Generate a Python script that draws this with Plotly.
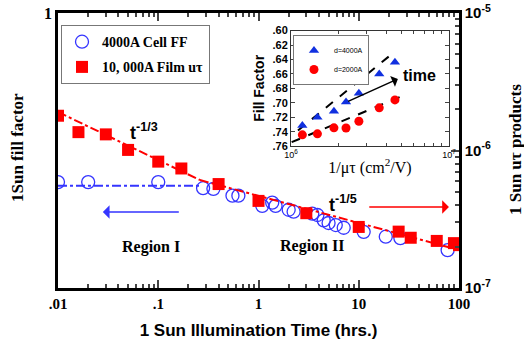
import numpy as np
import plotly.graph_objects as go

# ---------------- data ----------------
# Blue open circles: 4000A cell fill factor (left axis)
ff_time = [0.01, 0.02, 0.1, 0.28, 0.355, 0.55, 0.63, 1.09, 1.37, 1.48, 2.0, 2.24,
           3.44, 3.87, 4.47, 5.0, 5.9, 7.08, 11.2, 18.6, 26, 77]
ff_vals = [0.653, 0.653, 0.653, 0.643, 0.642, 0.631, 0.631, 0.615, 0.620, 0.615, 0.609, 0.606,
           0.603, 0.601, 0.593, 0.589, 0.586, 0.582, 0.576, 0.569, 0.567, 0.550]

# Red squares: 10,000A film mu-tau (right axis)
mt_time = [0.01, 0.016, 0.03, 0.05, 0.10, 0.17, 0.40, 1.0, 3.0, 10, 25, 33, 60, 89, 100]
mt_vals = [1.79e-6, 1.36e-6, 1.31e-6, 1.01e-6, 8.3e-7, 7.4e-7, 5.7e-7, 4.3e-7, 3.5e-7,
           2.78e-7, 2.57e-7, 2.32e-7, 2.2e-7, 2.12e-7, 2.05e-7]

# Fit lines
fit13_time = [0.01, 0.26]
fit13_vals = [1.905e-6, 6.1e-7]
fit15_time = [0.26, 100]
fit15_vals = [6.1e-7, 1.89e-7]
ffit_time = [0.01, 0.26]
ffit_vals = [0.647, 0.647]

# Arrows (time, mu-tau)
blue_arrow_t = [0.166, 0.028]
blue_arrow_v = [3.57e-7, 3.57e-7]
red_arrow_t = [12.3, 79.4]
red_arrow_v = [3.88e-7, 3.88e-7]

# Inset data
in_x4000 = [1.18e6, 1.47e6, 1.87e6, 2.23e6, 2.69e6, 3.62e6, 4.55e6]
in_y4000 = [0.7315, 0.720, 0.7117, 0.699, 0.6868, 0.660, 0.6439]
in_x2000 = [1.18e6, 1.47e6, 1.87e6, 2.23e6, 2.69e6, 3.62e6, 4.55e6]
in_y2000 = [0.7444, 0.743, 0.7347, 0.735, 0.7255, 0.707, 0.696]
in_fit_up_x = [1.107e6, 4.23e6]
in_fit_up_y = [0.7384, 0.6346]
in_fit_lo_x = [1.01e6, 5.14e6]
in_fit_lo_y = [0.7546, 0.690]
in_arrow_x = [2.25e6, 4.75e6]
in_arrow_y = [0.699, 0.6669]

x_tickvals = [0.01, 0.1, 1, 10, 100]
x_ticktext = [".01", ".1", "1", "10", "100"]
r_tickvals = [1e-7, 1e-6, 1e-5]
r_ticktext = ["10<sup>-7</sup>", "10<sup>-6</sup>", "10<sup>-5</sup>"]
in_ytickvals = [0.60, 0.62, 0.64, 0.66, 0.68, 0.70, 0.72, 0.74, 0.76]
in_yticktext = [".60", ".62", ".64", ".66", ".68", ".70", ".72", ".74", ".76"]

TIMES = "Liberation Serif"
ARIAL = "Liberation Sans"
BLUE = "#3535ff"
RED = "#ff0000"

def minor_log(lo, hi):
    out = []
    for d in range(lo, hi):
        for m in range(2, 10):
            out.append(m * 10.0 ** d)
    return out

fig = go.Figure()

# main traces
fig.add_trace(go.Scatter(x=ffit_time, y=ffit_vals, mode="lines", yaxis="y",
                         line=dict(color=BLUE, width=2, dash="dashdot"), showlegend=False))
fig.add_trace(go.Scatter(x=fit13_time, y=fit13_vals, mode="lines", yaxis="y2",
                         line=dict(color=RED, width=2, dash="dashdot"), showlegend=False))
fig.add_trace(go.Scatter(x=fit15_time, y=fit15_vals, mode="lines", yaxis="y2",
                         line=dict(color=RED, width=2, dash="dashdot"), showlegend=False))
fig.add_trace(go.Scatter(x=ff_time, y=ff_vals, mode="markers", yaxis="y",
                         name="4000A Cell FF", legendgroup="a",
                         marker=dict(symbol="circle-open", size=13, color=BLUE, line=dict(width=1.3))))
fig.add_trace(go.Scatter(x=mt_time, y=mt_vals, mode="markers", yaxis="y2",
                         name="10, 000A Film uτ", legendgroup="b",
                         marker=dict(symbol="square", size=12, color=RED)))

# inset traces
fig.add_trace(go.Scatter(x=in_fit_up_x, y=in_fit_up_y, mode="lines", xaxis="x3", yaxis="y3",
                         line=dict(color="black", width=2, dash="dash"), showlegend=False))
fig.add_trace(go.Scatter(x=in_fit_lo_x, y=in_fit_lo_y, mode="lines", xaxis="x3", yaxis="y3",
                         line=dict(color="black", width=2, dash="dash"), showlegend=False))
fig.add_trace(go.Scatter(x=in_x4000, y=in_y4000, mode="markers", xaxis="x3", yaxis="y3",
                         name="d=4000A", legend="legend2",
                         marker=dict(symbol="triangle-up", size=9, color="#1030e0")))
fig.add_trace(go.Scatter(x=in_x2000, y=in_y2000, mode="markers", xaxis="x3", yaxis="y3",
                         name="d=2000A", legend="legend2",
                         marker=dict(symbol="circle", size=9, color=RED)))

axis_common = dict(showline=True, linecolor="black", showgrid=False, zeroline=False, automargin=False)

fig.update_layout(
    width=524, height=359,
    margin=dict(l=58, r=65, t=13, b=71, autoexpand=False),
    paper_bgcolor="white", plot_bgcolor="white",
    xaxis=dict(type="log", range=[-2, 2], tickmode="array", tickvals=x_tickvals, ticktext=x_ticktext,
               ticks="inside", ticklen=8, tickwidth=2, linewidth=2.5, mirror="ticks",
               minor=dict(tickmode="array", tickvals=minor_log(-2, 2), ticks="inside", ticklen=4,
                          tickwidth=1.5, showgrid=False),
               tickfont=dict(family=TIMES, size=15, color="black", weight="bold"),
               title=dict(text="1 Sun Illumination Time (hrs.)",
                          font=dict(family=ARIAL, size=17, color="black", weight="bold"), standoff=14),
               **axis_common),
    yaxis=dict(type="log", range=[np.log10(0.5), 0], tickmode="array", tickvals=[1], ticktext=["1"],
               ticks="", linewidth=2.5,
               tickfont=dict(family=TIMES, size=16, color="black", weight="bold"),
               **axis_common),
    yaxis2=dict(type="log", range=[-7, -5], overlaying="y", side="right", anchor="x",
                tickmode="array", tickvals=r_tickvals, ticktext=r_ticktext,
                ticks="inside", ticklen=8, tickwidth=2, linewidth=2.5,
                minor=dict(tickmode="array", tickvals=minor_log(-7, -5), ticks="inside", ticklen=4,
                           tickwidth=1.5, showgrid=False),
                tickfont=dict(family=ARIAL, size=15, color="black", weight="bold"),
                **axis_common),
    xaxis3=dict(type="log", range=[6, 7], domain=[0.581, 0.975], anchor="y3",
                tickmode="array", tickvals=[1e6, 1e7], ticktext=["10<sup>6</sup>", "10<sup>7</sup>"],
                ticks="inside", ticklen=4, mirror="ticks", linewidth=1, linecolor="#333",
                minor=dict(tickmode="array", tickvals=minor_log(6, 7), ticks="inside", ticklen=3,
                           showgrid=False),
                tickfont=dict(family=ARIAL, size=9, color="black"),
                title=dict(text="1/μτ (cm<sup>2</sup>/V)", font=dict(family=TIMES, size=16, color="black"),
                           standoff=2),
                showgrid=False, zeroline=False, showline=True, automargin=False),
    yaxis3=dict(range=[0.76, 0.60], domain=[0.516, 0.936], anchor="x3",
                tickmode="array", tickvals=in_ytickvals, ticktext=in_yticktext,
                ticks="inside", ticklen=4, mirror="ticks", linewidth=1, linecolor="#333",
                tickfont=dict(family=ARIAL, size=11, color="black", weight="bold"),
                title=dict(text="Fill Factor", font=dict(family=ARIAL, size=14, color="black", weight="bold"),
                           standoff=4),
                showgrid=False, zeroline=False, showline=True, automargin=False),
    legend=dict(x=0.0075, y=0.956, xanchor="left", yanchor="top",
                bgcolor="white", bordercolor="#777", borderwidth=1,
                font=dict(family=TIMES, size=14, color="black", weight="bold"),
                tracegroupgap=4, itemwidth=30),
    legend2=dict(x=0.586, y=0.92, xanchor="left", yanchor="top",
                 bgcolor="white", bordercolor="#777", borderwidth=1,
                 font=dict(family=ARIAL, size=7, color="black"), itemwidth=30),
    showlegend=True,
)

annots = []
# arrows in main plot
annots.append(dict(x=np.log10(blue_arrow_t[1]), y=np.log10(blue_arrow_v[1]),
                   ax=np.log10(blue_arrow_t[0]), ay=np.log10(blue_arrow_v[0]),
                   xref="x", yref="y2", axref="x", ayref="y2", text="", showarrow=True,
                   arrowhead=1, arrowsize=1.5, arrowwidth=1.5, arrowcolor=BLUE))
annots.append(dict(x=np.log10(red_arrow_t[1]), y=np.log10(red_arrow_v[1]),
                   ax=np.log10(red_arrow_t[0]), ay=np.log10(red_arrow_v[0]),
                   xref="x", yref="y2", axref="x", ayref="y2", text="", showarrow=True,
                   arrowhead=1, arrowsize=1.5, arrowwidth=1.5, arrowcolor=RED))
# inset arrow
annots.append(dict(x=np.log10(in_arrow_x[1]), y=in_arrow_y[1],
                   ax=np.log10(in_arrow_x[0]), ay=in_arrow_y[0],
                   xref="x3", yref="y3", axref="x3", ayref="y3", text="", showarrow=True,
                   arrowhead=1, arrowsize=1.3, arrowwidth=1.5, arrowcolor="black"))
# texts
annots.append(dict(x=np.log10(0.072), y=np.log10(1.38e-6), xref="x", yref="y2",
                   text="t<sup>-1/3</sup>", showarrow=False,
                   font=dict(family=ARIAL, size=18, color="black", weight="bold")))
annots.append(dict(x=np.log10(6.9), y=np.log10(4.15e-7), xref="x", yref="y2",
                   text="t<sup>-1/5</sup>", showarrow=False,
                   font=dict(family=ARIAL, size=18, color="black", weight="bold")))
annots.append(dict(x=0.155, y=0.109, xref="paper", yref="paper", text="Region I", showarrow=False,
                   font=dict(family=TIMES, size=16, color="black", weight="bold")))
annots.append(dict(x=0.633, y=0.113, xref="paper", yref="paper", text="Region II", showarrow=False,
                   font=dict(family=TIMES, size=16, color="black", weight="bold")))
annots.append(dict(x=np.log10(6.5e6), y=0.662, xref="x3", yref="y3", text="time", showarrow=False,
                   font=dict(family=ARIAL, size=16, color="black", weight="bold")))
# y titles
annots.append(dict(x=(17 - 58) / 401, y=(288 - 148) / 275, xref="paper", yref="paper",
                   text="1Sun fill factor", textangle=-90, showarrow=False,
                   xanchor="center", yanchor="middle",
                   font=dict(family=TIMES, size=17, color="black", weight="bold")))
annots.append(dict(x=(515 - 58) / 401, y=(288 - 150) / 275, xref="paper", yref="paper",
                   text="1 Sun uτ products", textangle=-90, showarrow=False,
                   xanchor="center", yanchor="middle",
                   font=dict(family=TIMES, size=17, color="black", weight="bold")))
fig.update_layout(annotations=annots)

fig.write_html("out.html", config={"displayModeBar": False},
               post_script="document.body.style.margin='0';document.body.style.padding='0';")
